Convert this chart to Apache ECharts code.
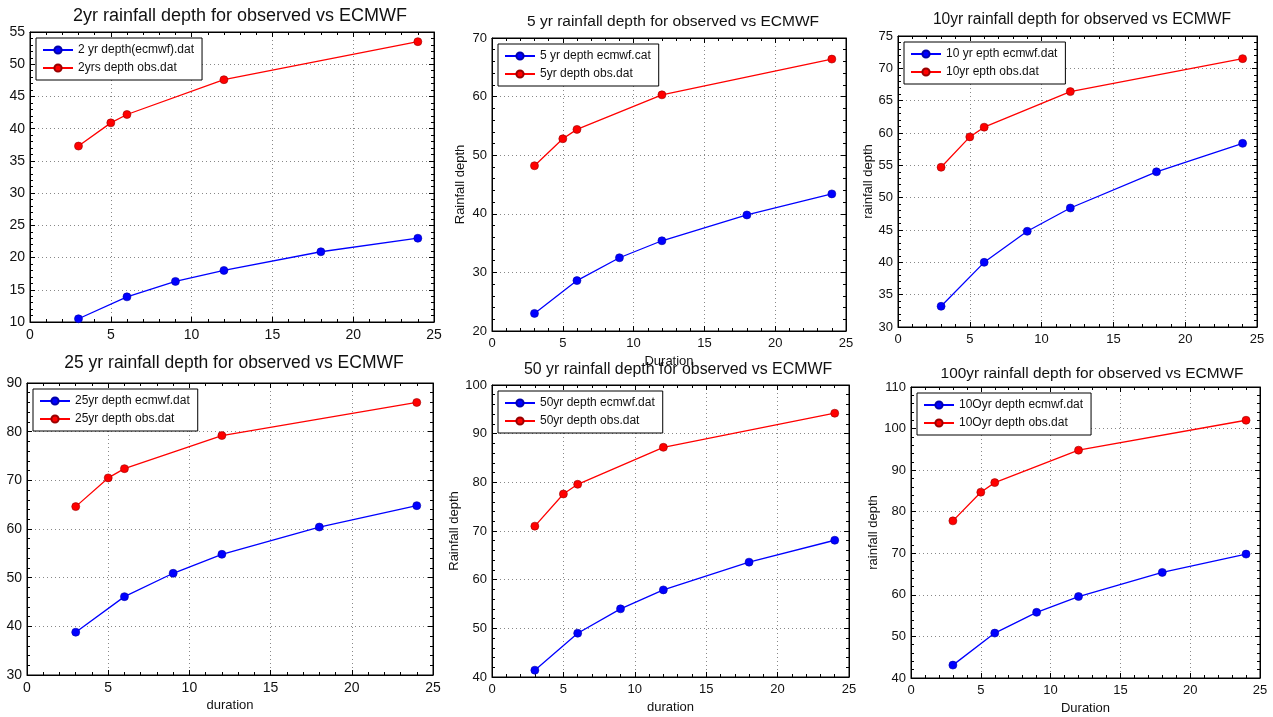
<!DOCTYPE html>
<html>
<head>
<meta charset="utf-8">
<script src="https://cdn.jsdelivr.net/npm/echarts@6/dist/echarts.min.js"></script>
<style>
html,body{margin:0;padding:0;background:#fff;}
#c{width:1273px;height:717px;}
</style>
</head>
<body>
<div id="c"></div>
<script>
// ---- data ----
const ecmwfDurations = [3, 6, 9, 12, 18, 24];
const obsDurations = [3, 5, 6, 12, 24];

const titles = [
  '2yr rainfall depth for observed vs ECMWF',
  '5 yr rainfall depth for observed vs ECMWF',
  '10yr rainfall depth for observed vs ECMWF',
  '25 yr rainfall depth for observed vs ECMWF',
  '50 yr rainfall depth for observed vs ECMWF',
  '100yr rainfall depth for observed vs ECMWF'
];
const ecmwfNames = ['2 yr depth(ecmwf).dat', '5 yr depth ecmwf.cat', '10 yr epth ecmwf.dat', '25yr depth ecmwf.dat', '50yr depth ecmwf.dat', '10Oyr depth ecmwf.dat'];
const obsNames = ['2yrs depth obs.dat', '5yr depth obs.dat', '10yr epth obs.dat', '25yr depth obs.dat', '50yr depth obs.dat', '10Oyr depth obs.dat'];

const ecmwf2 = [10.5, 13.9, 16.3, 18.0, 20.9, 23.0];
const obs2 = [37.3, 40.9, 42.2, 47.6, 53.5];
const ecmwf5 = [23.0, 28.6, 32.5, 35.4, 39.8, 43.4];
const obs5 = [48.2, 52.8, 54.4, 60.3, 66.4];
const ecmwf10 = [33.2, 40.0, 44.8, 48.4, 54.0, 58.4];
const obs10 = [54.7, 59.4, 60.9, 66.4, 71.5];
const ecmwf25 = [38.8, 46.1, 50.9, 54.8, 60.4, 64.8];
const obs25 = [64.6, 70.5, 72.4, 79.2, 86.0];
const ecmwf50 = [41.4, 49.0, 54.0, 57.9, 63.6, 68.1];
const obs50 = [71.0, 77.6, 79.6, 87.2, 94.2];
const ecmwf100 = [43.1, 50.8, 55.8, 59.6, 65.4, 69.8];
const obs100 = [77.8, 84.7, 87.0, 94.8, 102.0];

const ecmwfSets = [ecmwf2, ecmwf5, ecmwf10, ecmwf25, ecmwf50, ecmwf100];
const obsSets = [obs2, obs5, obs10, obs25, obs50, obs100];

const yMins = [10, 20, 30, 30, 40, 40];
const yMaxs = [55, 70, 75, 90, 100, 110];
const yIntervals = [5, 10, 5, 10, 10, 10];
const yNames = ['', 'Rainfall depth', 'rainfall depth', '', 'Rainfall depth', 'rainfall depth'];
const xNames = ['', 'Duration', '', 'duration', 'duration', 'Duration'];
const xMin = 0, xMax = 25, xInterval = 5;

// ---- layout ----
const grids = [
  {left: 30, top: 32, width: 404, height: 290},
  {left: 492, top: 38, width: 354, height: 293},
  {left: 898, top: 36, width: 359, height: 291},
  {left: 27, top: 383, width: 406, height: 292},
  {left: 492, top: 385, width: 357, height: 292},
  {left: 911, top: 387, width: 349, height: 291}
];
const titleFont = [18, 15.5, 15.6, 17.5, 15.9, 15.4];
const titleCenter = [235, 668, 1077, 229, 673, 1087];
const titleMid = [15, 20, 18, 362, 368, 372];
const labelFont = [14, 13, 13, 14, 13, 13];
const yNameGap = [30, 25, 22, 30, 25, 26];

const FONT = 'Liberation Sans, Arial, sans-serif';
const option = {
  backgroundColor: '#fff',
  animation: false,
  textStyle: {fontFamily: FONT},
  title: [], grid: [], xAxis: [], yAxis: [], legend: [], series: []
};

grids.forEach((g, i) => {
  option.grid.push({left: g.left, top: g.top, width: g.width, height: g.height,
    show: true, borderColor: '#000', borderWidth: 1, backgroundColor: 'transparent', containLabel: false});
  option.title.push({text: titles[i], left: titleCenter[i], top: titleMid[i] - titleFont[i] * 0.6 - 2,
    textAlign: 'center',
    textStyle: {fontSize: titleFont[i], fontWeight: 'normal', color: '#111', fontFamily: FONT}});
  const tickCommon = {inside: true, length: 5, lineStyle: {color: '#000'}};
  const minorCommon = {show: true, splitNumber: 5, length: 3, lineStyle: {color: '#000'}};
  option.xAxis.push({type: 'value', gridIndex: i, min: xMin, max: xMax, interval: xInterval, position: 'bottom',
    name: xNames[i], nameLocation: 'middle', nameGap: 24,
    nameTextStyle: {fontSize: 13, color: '#111', fontFamily: FONT},
    axisLine: {show: true, onZero: false, lineStyle: {color: '#000', width: 1}},
    axisTick: tickCommon, minorTick: minorCommon,
    axisLabel: {fontSize: labelFont[i], color: '#111', margin: 6, fontFamily: FONT},
    splitLine: {show: true, lineStyle: {color: '#888', type: [1, 3], width: 1}}});
  option.xAxis.push({type: 'value', gridIndex: i, min: xMin, max: xMax, interval: xInterval, position: 'top',
    axisLine: {show: true, onZero: false, lineStyle: {color: '#000'}},
    axisTick: tickCommon, minorTick: minorCommon, axisLabel: {show: false}, splitLine: {show: false}});
  option.yAxis.push({type: 'value', gridIndex: i, min: yMins[i], max: yMaxs[i], interval: yIntervals[i], position: 'left',
    name: yNames[i], nameLocation: 'middle', nameGap: yNameGap[i], nameRotate: 90,
    nameTextStyle: {fontSize: 13, color: '#111', fontFamily: FONT},
    axisLine: {show: true, onZero: false, lineStyle: {color: '#000', width: 1}},
    axisTick: tickCommon, minorTick: minorCommon,
    axisLabel: {fontSize: labelFont[i], color: '#111', margin: 5, fontFamily: FONT},
    splitLine: {show: true, lineStyle: {color: '#888', type: [1, 3], width: 1}}});
  option.yAxis.push({type: 'value', gridIndex: i, min: yMins[i], max: yMaxs[i], interval: yIntervals[i], position: 'right',
    axisLine: {show: true, onZero: false, lineStyle: {color: '#000'}},
    axisTick: tickCommon, minorTick: minorCommon, axisLabel: {show: false}, splitLine: {show: false}});

  option.legend.push({left: g.left + 6, top: g.top + 6, orient: 'vertical',
    data: [ecmwfNames[i], obsNames[i]],
    backgroundColor: '#fff', borderColor: '#000', borderWidth: 1, borderRadius: 0,
    padding: [6, 8, 6, 6], itemGap: 6, itemWidth: 30, itemHeight: 9,
    textStyle: {fontSize: 12, color: '#111', fontFamily: FONT}});

  option.series.push({type: 'line', name: ecmwfNames[i], xAxisIndex: 2 * i, yAxisIndex: 2 * i,
    data: ecmwfDurations.map((d, k) => [d, ecmwfSets[i][k]]),
    symbol: 'circle', symbolSize: 8,
    lineStyle: {color: '#0000ff', width: 1.3},
    itemStyle: {color: '#0000ff', borderColor: '#0000aa', borderWidth: 0.6}, z: 3});
  option.series.push({type: 'line', name: obsNames[i], xAxisIndex: 2 * i, yAxisIndex: 2 * i,
    data: obsDurations.map((d, k) => [d, obsSets[i][k]]),
    symbol: 'circle', symbolSize: 8,
    lineStyle: {color: '#ff0000', width: 1.3},
    itemStyle: {color: '#ff0000', borderColor: '#990000', borderWidth: 0.6}, z: 3});
});

const chart = echarts.init(document.getElementById('c'), null, {renderer: 'canvas'});
chart.setOption(option);
</script>
</body>
</html>
